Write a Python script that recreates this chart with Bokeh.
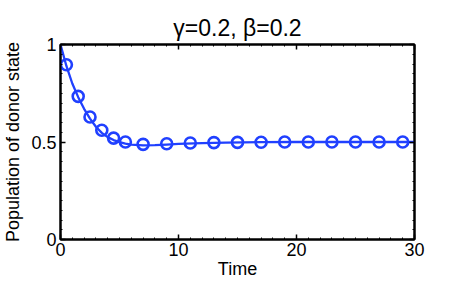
from bokeh.plotting import figure
from bokeh.models import Range1d, LinearAxis, FixedTicker
from bokeh.embed import file_html
from bokeh.resources import INLINE

# data
line_t = [0, 0.5, 1, 1.5, 2, 2.5, 3, 3.5, 4, 4.5, 5, 5.5, 6, 7, 8, 9, 10, 12, 14, 17, 20, 25, 30]
line_y = [1.0, 0.89, 0.80, 0.73, 0.67, 0.62, 0.578, 0.547, 0.525, 0.51, 0.499, 0.492, 0.487,
          0.483, 0.484, 0.487, 0.490, 0.494, 0.497, 0.499, 0.5, 0.5, 0.5]
mark_t = [0.5, 1.5, 2.5, 3.5, 4.5, 5.5, 7, 9, 11, 13, 15, 17, 19, 21, 23, 25, 27, 29]
mark_y = [0.896, 0.734, 0.628, 0.560, 0.520, 0.500, 0.488, 0.491, 0.495, 0.497, 0.498,
          0.499, 0.5, 0.5, 0.5, 0.5, 0.5, 0.5]
x_ticks = [0, 10, 20, 30]
y_ticks = [0, 0.5, 1]
title_text = "γ=0.2, β=0.2"
x_label = "Time"
y_label = "Population of donor state"

BLUE = "#2040ff"
FONT = "Liberation Sans"

p = figure(width=457, height=285, output_backend="svg", toolbar_location=None,
           x_range=Range1d(0, 30), y_range=Range1d(0, 1),
           min_border_left=58, min_border_right=43, min_border_top=44, min_border_bottom=46,
           title=title_text)
p.title.text_font = FONT
p.title.text_font_size = "23px"
p.title.text_font_style = "normal"
p.title.align = "center"
p.title.text_color = "black"
p.title.standoff = 8
p.grid.visible = False
p.outline_line_color = "black"
p.outline_line_width = 2
p.background_fill_color = "white"
p.border_fill_color = "white"

x_minor = [i for i in range(0, 31) if i % 10 != 0]
y_minor = [round(i * 0.05, 2) for i in range(0, 21) if i % 10 != 0]


def style_axis(ax, ticks, minor, show_labels=True):
    ax.ticker = FixedTicker(ticks=ticks, minor_ticks=minor)
    ax.axis_line_color = "black"
    ax.axis_line_width = 2
    ax.major_tick_in = 5
    ax.major_tick_out = 0
    ax.major_tick_line_width = 1.5
    ax.minor_tick_in = 2
    ax.minor_tick_out = 0
    ax.major_label_text_font = FONT
    ax.major_label_text_font_size = "18px"
    ax.major_label_text_color = "black"
    ax.axis_label_text_font = FONT
    ax.axis_label_text_font_size = "18px"
    ax.axis_label_text_font_style = "normal"
    ax.axis_label_text_color = "black"
    if not show_labels:
        ax.major_label_overrides = {t: "" for t in ticks}
        ax.major_label_standoff = 0
        ax.axis_label_standoff = 0


xa = p.xaxis[0]
style_axis(xa, x_ticks, x_minor)
xa.axis_label = x_label
xa.major_label_standoff = 3
xa.axis_label_standoff = 0

ya = p.yaxis[0]
style_axis(ya, y_ticks, y_minor)
ya.axis_label = y_label
ya.major_label_standoff = 4
ya.axis_label_standoff = 5

top = LinearAxis()
style_axis(top, x_ticks, x_minor, show_labels=False)
p.add_layout(top, "above")

right = LinearAxis()
style_axis(right, y_ticks, y_minor, show_labels=False)
p.add_layout(right, "right")

p.line(line_t, line_y, line_color=BLUE, line_width=2.3)
p.scatter(mark_t, mark_y, marker="circle", size=11, fill_color=None,
          line_color=BLUE, line_width=2.6)

open("out.html", "w").write(file_html(p, INLINE))
